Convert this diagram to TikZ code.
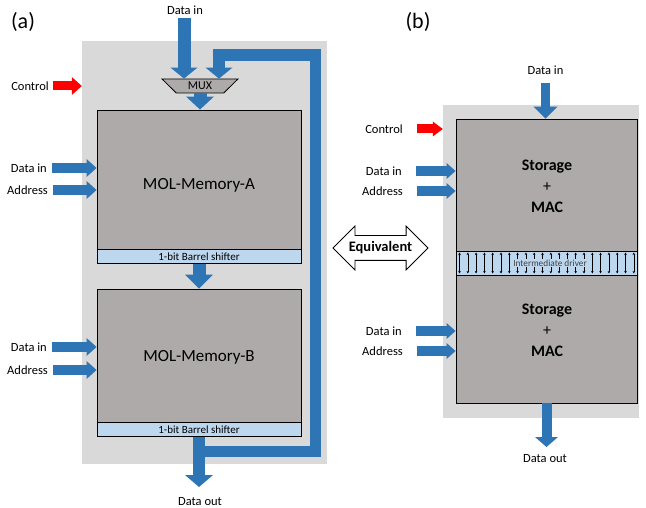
\documentclass[tikz,border=0pt]{standalone}
\usepackage{fontspec}
\setmainfont{Carlito}
\usetikzlibrary{arrows.meta,shapes.geometric,shapes.arrows}

\definecolor{bggray}{HTML}{D9D9D9}
\definecolor{memgray}{HTML}{AEAAAA}
\definecolor{shiftblue}{HTML}{BDD7EE}
\definecolor{arrowblue}{HTML}{2E75B6}

\tikzset{
  tag/.style={font=\fontsize{22}{26}\selectfont, inner sep=0pt},
  lbl/.style={font=\fontsize{12.5}{15}\selectfont, inner sep=0pt},
  bgbox/.style={fill=bggray, inner sep=0pt},
  membox/.style={draw=black, line width=0.9pt, fill=memgray, minimum width=204pt, inner sep=0pt},
  memtext/.style={font=\fontsize{17}{20}\selectfont, inner sep=0pt},
  shifter/.style={draw=black, line width=0.9pt, fill=shiftblue, minimum width=204pt, minimum height=14pt, inner sep=0pt, font=\fontsize{11}{13}\selectfont},
  muxbox/.style={trapezium, trapezium angle=47, trapezium stretches=true, shape border rotate=180, minimum width=76pt, minimum height=14pt, inner sep=0pt, draw=black, line width=0.8pt, fill=memgray, font=\fontsize{12}{14}\selectfont},
  stobox/.style={draw=black, line width=0.9pt, fill=memgray, minimum width=181pt, inner sep=0pt},
  drvbox/.style={draw=black, line width=0.9pt, fill=shiftblue, minimum width=181pt, minimum height=24pt, inner sep=0pt},
  drvtext/.style={fill=shiftblue, inner sep=0.6pt, text=black!75, font=\fontsize{9.3}{11}\selectfont},
  drvarrow/.style={line width=0.5pt, {Stealth[length=2.5pt,width=2.5pt]}-{Stealth[length=2.5pt,width=2.5pt]}},
  stotext/.style={align=center, inner sep=0pt, font=\fontsize{16}{21}\selectfont\bfseries},
  equiv/.style={double arrow, double arrow head extend=9.5pt, draw=black, line width=0.8pt, fill=white, minimum height=95pt, text height=24pt, text depth=0pt, text width=0pt, inner sep=0pt},
  eqtext/.style={font=\fontsize{14.5}{17}\selectfont\bfseries, inner sep=0pt},
  blk/.style n args={3}{draw=arrowblue, line width=#1, -{Triangle[width=#2,length=#3,line width=0pt]}},
  ctl/.style n args={3}{draw=red, line width=#1, -{Triangle[width=#2,length=#3,line width=0pt]}}
}

\begin{document}
\begin{tikzpicture}[x=1pt,y=-1pt]
\useasboundingbox (0,0) rectangle (646,508);

% panel tags
\node[tag] (tagA) at (23,22) {(a)};
\node[tag] (tagB) at (418,22) {(b)};

% backgrounds
\node[bgbox, minimum width=245pt, minimum height=423pt] (bgA) at (204.5,252.5) {};
\node[bgbox, minimum width=196pt, minimum height=313pt] (bgB) at (541,261.5) {};

% (a) memories
\node[membox, minimum height=139pt] (memA) at (199,179.5) {};
\node[shifter, anchor=north] (barA) at (memA.south) {1-bit Barrel shifter};
\node[membox, minimum height=133pt] (memB) at (199,355.5) {};
\node[shifter, anchor=north] (barB) at (memB.south) {1-bit Barrel shifter};
\node[memtext] (memAtext) at ([yshift=-5.5pt]memA.center) {MOL-Memory-A};
\node[memtext] (memBtext) at ([yshift=-1.5pt]memB.center) {MOL-Memory-B};

\node[muxbox] (mux) at (200,86) {MUX};

% feedback loop
\coordinate (loopR) at (315.5,55);
\draw[blk={11.5pt}{27pt}{11pt}, line join=miter]
([yshift=-14pt]barB.south)
-| (loopR)
-| ([xshift=19pt]mux.north);

% data in / data out
\node[lbl] (dinTop) at (185,10) {Data in};
\draw[blk={13pt}{27pt}{11pt}] ([yshift=-3pt,xshift=-1pt]dinTop.south) -- ([xshift=-1pt]dinTop.south |- mux.north);
\draw[blk={13pt}{28pt}{13pt}] (mux.south) -- (mux.south |- memA.north);
\draw[blk={13pt}{28pt}{14pt}] (barA.south) -- (memB.north);

\node[lbl] (doutA) at (200,502) {Data out};
\coordinate (doutAtip) at (199,487);
\draw[blk={12pt}{28pt}{12pt}] (barB.south) -- (doutAtip);

% (a) side inputs
\node[lbl, anchor=east] (ctrlA) at (49,86) {Control};
\node[lbl, anchor=east] (dinA) at (47,168) {Data in};
\node[lbl, anchor=east] (addrA) at (48,190) {Address};
\node[lbl, anchor=east] (dinB) at (47,347) {Data in};
\node[lbl, anchor=east] (addrB) at (48,370) {Address};
\draw[ctl={9pt}{18pt}{10pt}] ([xshift=4pt]ctrlA.east) -- (ctrlA -| bgA.west);
\foreach \n/\m in {dinA/memA, addrA/memA, dinB/memB, addrB/memB}
  \draw[blk={10pt}{18pt}{10pt}] ([xshift=5pt]\n.east) -- (\n -| \m.west);

% equivalent
\node[equiv] (eqv) at (380.5,248) {};
\node[eqtext] (eqvtext) at (eqv.center) {Equivalent};

% (b) storage + MAC
\node[stobox, minimum height=132pt] (stoA) at (546.5,185) {};
\node[drvbox] (drv) at (546.5,263) {};
\node[stobox, minimum height=128pt] (stoB) at (546.5,339) {};
\foreach \i in {0,...,21}
  \draw[drvarrow] (459.5+8.3*\i,252.5) -- (459.5+8.3*\i,273.5);
\node[drvtext] (drvlbl) at (550,263) {Intermediate driver};
\node[stotext] (stoAtext) at (547,186) {Storage\\{\mdseries +}\\MAC};
\node[stotext] (stoBtext) at (547,330) {Storage\\{\mdseries +}\\MAC};

% (b) inputs and outputs
\node[lbl] (dinS) at (545.5,70) {Data in};
\draw[blk={9pt}{24pt}{12pt}] ([yshift=-8pt]dinS.south) -- (dinS.south |- stoA.north);

\node[lbl] (doutS) at (545,459) {Data out};
\coordinate (doutStip) at (546.5,447);
\draw[blk={10pt}{23pt}{10pt}] (stoB.south) -- (doutStip);

\node[lbl, anchor=east] (ctrlC) at (403,129) {Control};
\node[lbl, anchor=east] (dinC) at (402,171) {Data in};
\node[lbl, anchor=east] (addrC) at (403,191) {Address};
\node[lbl, anchor=east] (dinD) at (402,331) {Data in};
\node[lbl, anchor=east] (addrD) at (403,351) {Address};
\draw[ctl={9pt}{15pt}{10pt}] ([xshift=14pt]ctrlC.east) -- (ctrlC -| bgB.west);
\foreach \n/\m in {dinC/stoA, addrC/stoA, dinD/stoB, addrD/stoB}
  \draw[blk={10pt}{16pt}{9pt}] ([xshift=14pt]\n.east) -- (\n -| \m.west);

\end{tikzpicture}
\end{document}
